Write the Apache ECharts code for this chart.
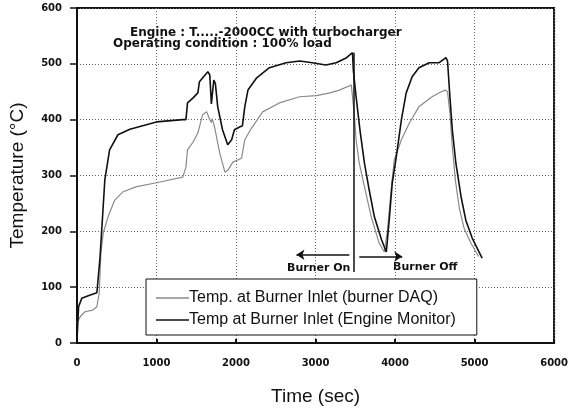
<!DOCTYPE html>
<html>
<head>
<meta charset="utf-8">
<script src="https://cdn.jsdelivr.net/npm/echarts@6/dist/echarts.min.js"></script>
<style>
  html, body { margin: 0; padding: 0; background: #fff; }
  #main { width: 571px; height: 412px; }
</style>
</head>
<body>
<div id="main"></div>
<script>
// series names (legend order)
const seriesNames = [
  "Temp. at Burner Inlet (burner DAQ)",
  "Temp at Burner Inlet (Engine Monitor)"
];

// [time sec, temperature °C]
const burnerDAQ = [
  [0, 36], [40, 47], [100, 56], [200, 59], [250, 65], [280, 90], [300, 160],
  [330, 197], [390, 226], [475, 256], [580, 271], [750, 280], [1000, 287],
  [1330, 297], [1370, 315], [1390, 346], [1460, 360], [1520, 376], [1580, 409],
  [1630, 414], [1670, 400], [1690, 395], [1700, 402], [1730, 387], [1795, 340],
  [1860, 306], [1900, 310], [1960, 324], [2070, 331], [2110, 364], [2195, 385],
  [2335, 414], [2545, 430], [2800, 441], [3010, 443], [3180, 448], [3300, 453],
  [3450, 462], [3470, 460], [3490, 405], [3510, 364], [3550, 322], [3615, 280],
  [3700, 226], [3800, 179], [3865, 163], [3905, 202], [3950, 274], [3990, 328],
  [4080, 364], [4180, 394], [4300, 423], [4465, 441], [4580, 450], [4630, 453],
  [4660, 450], [4690, 412], [4720, 351], [4760, 290], [4810, 240], [4870, 205],
  [4950, 180], [5050, 155]
];

const engineMonitor = [
  [0, 5], [20, 65], [60, 80], [150, 85], [250, 90], [290, 154], [350, 292],
  [410, 346], [515, 373], [665, 383], [1000, 396], [1330, 400], [1370, 400],
  [1390, 430], [1460, 439], [1520, 448], [1540, 468], [1645, 486], [1670, 480],
  [1690, 428], [1720, 471], [1740, 465], [1770, 423], [1830, 382], [1895, 355],
  [1945, 364], [1980, 382], [2045, 387], [2080, 389], [2110, 423], [2150, 453],
  [2260, 475], [2420, 493], [2630, 502], [2800, 505], [2960, 502], [3130, 498],
  [3260, 502], [3390, 511], [3465, 520], [3475, 489], [3510, 441], [3560, 380],
  [3615, 322], [3675, 274], [3740, 226], [3830, 185], [3890, 163], [3930, 226],
  [3965, 287], [4015, 333], [4080, 400], [4140, 448], [4215, 477], [4300, 493],
  [4430, 502], [4555, 502], [4640, 511], [4660, 505], [4690, 441], [4720, 382],
  [4765, 322], [4830, 262], [4890, 220], [4970, 188], [5095, 152]
];

// annotation arrows / marker line, in data units
const burnerOnArrow = [[3425, 158], [2760, 158]];
const burnerOffArrow = [[3550, 155], [4090, 155]];
const markerLine = [[3482, 520], [3482, 127]];

const chart = echarts.init(document.getElementById("main"));

const tickFont = { fontFamily: "DejaVu Sans", fontWeight: "bold", fontSize: 10, color: "#111" };
const noComma = (v) => String(v);

const option = {
  animation: false,
  backgroundColor: "#fff",
  grid: {
    left: 77, right: 16, top: 8, bottom: 69,
    show: true, borderColor: "#111", borderWidth: 2
  },
  legend: {
    orient: "vertical",
    left: 146, top: 279,
    backgroundColor: "#fff",
    borderColor: "#111",
    borderWidth: 1,
    borderRadius: 0,
    padding: [11, 21, 7, 10],
    icon: "rect",
    itemWidth: 33, itemHeight: 1.5, itemGap: 6,
    textStyle: { fontFamily: "Liberation Sans", fontSize: 16, color: "#111", padding: [0, 0, 0, -5] },
    data: seriesNames
  },
  xAxis: {
    type: "value",
    min: 0, max: 6000, interval: 1000,
    name: "Time (sec)",
    nameLocation: "middle",
    nameGap: 44,
    nameTextStyle: { fontFamily: "Liberation Sans", fontSize: 19, color: "#111" },
    axisLine: { lineStyle: { color: "#111", width: 2 } },
    axisTick: { inside: true, length: 4, lineStyle: { color: "#111", width: 2 } },
    axisLabel: Object.assign({ margin: 15, formatter: noComma }, tickFont),
    splitLine: { lineStyle: { color: "#666", type: [1, 2], width: 1 } }
  },
  yAxis: {
    type: "value",
    min: 0, max: 600, interval: 100,
    name: "Temperature (°C)",
    nameLocation: "middle",
    nameGap: 50,
    nameTextStyle: { fontFamily: "Liberation Sans", fontSize: 19, color: "#111" },
    axisLine: { lineStyle: { color: "#111", width: 2 } },
    axisTick: { length: 7, lineStyle: { color: "#111", width: 1.5 } },
    axisLabel: Object.assign({ margin: 15, formatter: noComma }, tickFont),
    splitLine: { lineStyle: { color: "#666", type: [1, 2], width: 1 } }
  },
  series: [
    {
      name: seriesNames[0],
      type: "line",
      data: burnerDAQ,
      symbol: "none",
      lineStyle: { color: "#8a8a8a", width: 1.2 },
      itemStyle: { color: "#8a8a8a" },
      z: 3
    },
    {
      name: seriesNames[1],
      type: "line",
      data: engineMonitor,
      symbol: "none",
      lineStyle: { color: "#111", width: 1.6 },
      itemStyle: { color: "#111" },
      z: 4,
      markLine: {
        silent: true,
        symbol: ["none", "arrow"],
        symbolSize: 8,
        label: { show: false },
        lineStyle: { color: "#111", width: 1.5, type: "solid" },
        data: [
          [{ coord: burnerOnArrow[0] }, { coord: burnerOnArrow[1] }],
          [{ coord: burnerOffArrow[0] }, { coord: burnerOffArrow[1] }],
          [{ coord: markerLine[0], symbol: "none" }, { coord: markerLine[1], symbol: "none" }]
        ]
      }
    }
  ],
  graphic: [
    {
      type: "text", left: 130, top: 27,
      style: { text: "Engine : T.....-2000CC with turbocharger", font: "bold 12px 'DejaVu Sans'", fill: "#111" }
    },
    {
      type: "text", left: 113, top: 38,
      style: { text: "Operating condition : 100% load", font: "bold 12px 'DejaVu Sans'", fill: "#111" }
    },
    {
      type: "text", left: 287, top: 263,
      style: { text: "Burner On", font: "bold 11px 'DejaVu Sans'", fill: "#111" }
    },
    {
      type: "text", left: 393, top: 262,
      style: { text: "Burner Off", font: "bold 11px 'DejaVu Sans'", fill: "#111" }
    }
  ]
};

chart.setOption(option);
</script>
</body>
</html>
